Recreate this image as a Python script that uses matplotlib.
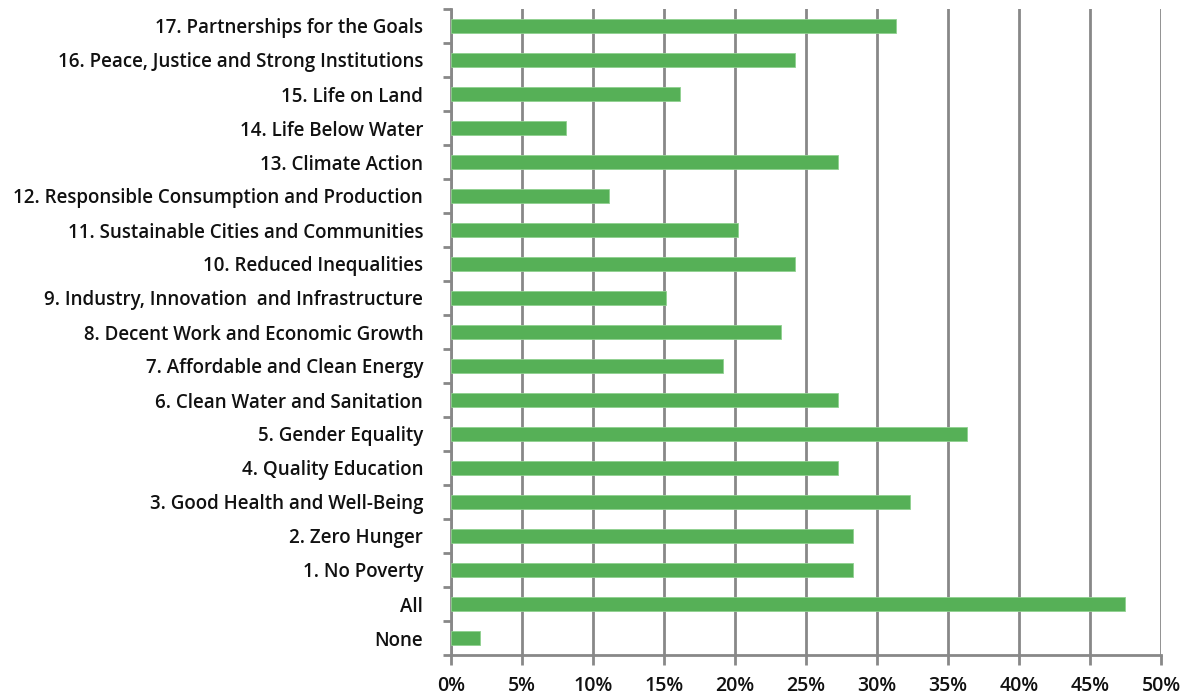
import matplotlib
matplotlib.use("Agg")
import matplotlib.pyplot as plt
import numpy as np
from matplotlib.ticker import FixedLocator, PercentFormatter

categories = [
    "None", "All", "1. No Poverty", "2. Zero Hunger", "3. Good Health and Well-Being",
    "4. Quality Education", "5. Gender Equality", "6. Clean Water and Sanitation",
    "7. Affordable and Clean Energy", "8. Decent Work and Economic Growth",
    "9. Industry, Innovation  and Infrastructure", "10. Reduced Inequalities",
    "11. Sustainable Cities and Communities", "12. Responsible Consumption and Production",
    "13. Climate Action", "14. Life Below Water", "15. Life on Land",
    "16. Peace, Justice and Strong Institutions", "17. Partnerships for the Goals",
]
values = [2.02, 47.47, 28.28, 28.28, 32.32, 27.27, 36.36, 27.27, 19.19, 23.23,
          15.15, 24.24, 20.20, 11.11, 27.27, 8.08, 16.16, 24.24, 31.31]
x_ticks = [0, 5, 10, 15, 20, 25, 30, 35, 40, 45, 50]

plt.rcParams['font.family'] = ['Open Sans', 'DejaVu Sans']
fig = plt.figure(figsize=(11.93, 7.0), dpi=100)
ax = fig.add_axes([451/1193, 45/700, (1161-451)/1193, (655-9)/700])

y = np.arange(len(categories))
ax.barh(y, values, height=0.42, color='#56B057', edgecolor='#8fd08f', linewidth=0.6, zorder=3)

ax.set_xlim(0, 50)
ax.set_ylim(-0.5, len(categories) - 0.5)
ax.xaxis.set_major_locator(FixedLocator(x_ticks))
ax.xaxis.set_major_formatter(PercentFormatter(decimals=0))
ax.grid(axis='x', color='#888888', linewidth=2, zorder=0)
ax.set_axisbelow(True)

ax.set_yticks(y)
ax.set_yticklabels(categories, fontweight='semibold')
ax.yaxis.set_minor_locator(FixedLocator(np.arange(-0.5, len(categories), 1.0)))
ax.tick_params(axis='y', which='major', length=0, pad=20, labelsize=13.5, labelcolor='#111111')
ax.tick_params(axis='y', which='minor', length=6, width=2, color='#888888', direction='out')
ax.tick_params(axis='x', which='major', length=7, width=2, color='#888888', pad=8,
               labelsize=14, labelcolor='#111111')
for lbl in ax.get_xticklabels():
    lbl.set_fontweight('semibold')

for s in ['top', 'right']:
    ax.spines[s].set_visible(False)
for s in ['left', 'bottom']:
    ax.spines[s].set_color('#888888')
    ax.spines[s].set_linewidth(2)

fig.savefig('out.png', dpi=100, facecolor='white')
